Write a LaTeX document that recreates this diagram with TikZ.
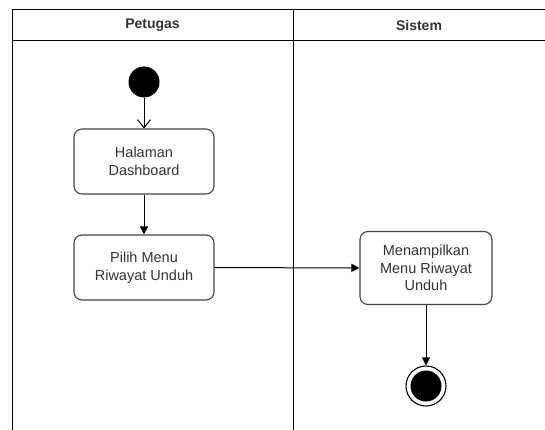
\documentclass[tikz,border=0pt]{standalone}
\usepackage{fontspec}
\setmainfont{Liberation Sans}
\usetikzlibrary{arrows.meta}
\definecolor{txt}{HTML}{333333}
\definecolor{edge}{HTML}{444444}
\begin{document}
\begin{tikzpicture}[x=1pt,y=-1pt,
  act/.style={draw=edge,line width=1.1pt,rounded corners=8pt,text=txt,font=\fontsize{14.5}{17.5}\selectfont,align=center,inner sep=0pt},
  lane/.style={draw=black,line width=1pt},
  hdr/.style={font=\bfseries\fontsize{14}{16}\selectfont,text=txt},
  flow/.style={draw=black,line width=1pt,-{Triangle[length=8pt,width=8pt]}},
  openflow/.style={draw=black,line width=1pt,-{Straight Barb[length=8pt,width=13pt]}}]
\useasboundingbox (0,0) rectangle (545,430);
% swimlanes
\draw[lane] (12,432) -- (12,10) -- (547,10);
\draw[lane] (12,40.5) -- (547,40.5);
\draw[lane] (293,10) -- (293,432);
\node[hdr] (h1) at (152.5,25) {Petugas};
\node[hdr] (h2) at (419,25) {Sistem};
% nodes
\node[circle,fill=black,minimum size=31pt,inner sep=0pt] (start) at (144,82) {};
\node[act,minimum width=140pt,minimum height=65pt] (a1) at (144,161.5) {Halaman\\Dashboard};
\node[act,minimum width=140pt,minimum height=65pt] (a2) at (144,267.5) {Pilih Menu\\Riwayat Unduh};
\node[act,minimum width=132pt,minimum height=73pt] (a3) at (426,268) {Menampilkan\\Menu Riwayat\\Unduh};
\node[circle,draw=black,line width=1.1pt,minimum size=40pt,inner sep=0pt] (end) at (426,386) {};
\node[circle,fill=black,minimum size=31pt,inner sep=0pt] (endin) at (426,386) {};
% connectors
\draw[openflow] (start) -- (a1);
\draw[flow] (a1) -- (a2);
\draw[flow] (a2) -- (a3);
\draw[flow] (a3) -- (end);
\end{tikzpicture}
\end{document}
